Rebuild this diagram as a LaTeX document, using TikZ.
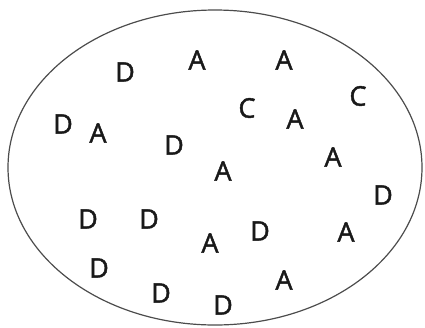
\documentclass[tikz,border=0pt]{standalone}
\usepackage{fontspec}
\setmainfont{Open Sans}
\newfontfamily\letterfont{Open Sans}[FakeBold=1.6]
\begin{document}
\begin{tikzpicture}[x=1pt,y=-1pt,
  lt/.style={inner sep=0pt, font=\letterfont\fontsize{27}{30}\selectfont, text=black!90}]
\useasboundingbox (0,0) rectangle (425,327);
\draw[line width=1.2pt, black!70] (215,167.5) ellipse [x radius=207, y radius=157.5];
\node[lt] (d1) at (125,72) {D};
\node[lt] (a1) at (197,60) {A};
\node[lt] (a2) at (284,60) {A};
\node[lt] (c1) at (358,96) {C};
\node[lt] (d2) at (63,124) {D};
\node[lt] (a3) at (98,133) {A};
\node[lt] (c2) at (247,108) {C};
\node[lt] (a4) at (295,119) {A};
\node[lt] (d3) at (174,145) {D};
\node[lt] (a5) at (333,157) {A};
\node[lt] (a6) at (223,171) {A};
\node[lt] (d4) at (383,195) {D};
\node[lt] (d5) at (88,219) {D};
\node[lt] (d6) at (149,219) {D};
\node[lt] (a7) at (210,243) {A};
\node[lt] (d7) at (260,231) {D};
\node[lt] (a8) at (346,232) {A};
\node[lt] (d8) at (99,268) {D};
\node[lt] (d9) at (161,293) {D};
\node[lt] (d10) at (223,305) {D};
\node[lt] (a9) at (284,280) {A};
\end{tikzpicture}
\end{document}
